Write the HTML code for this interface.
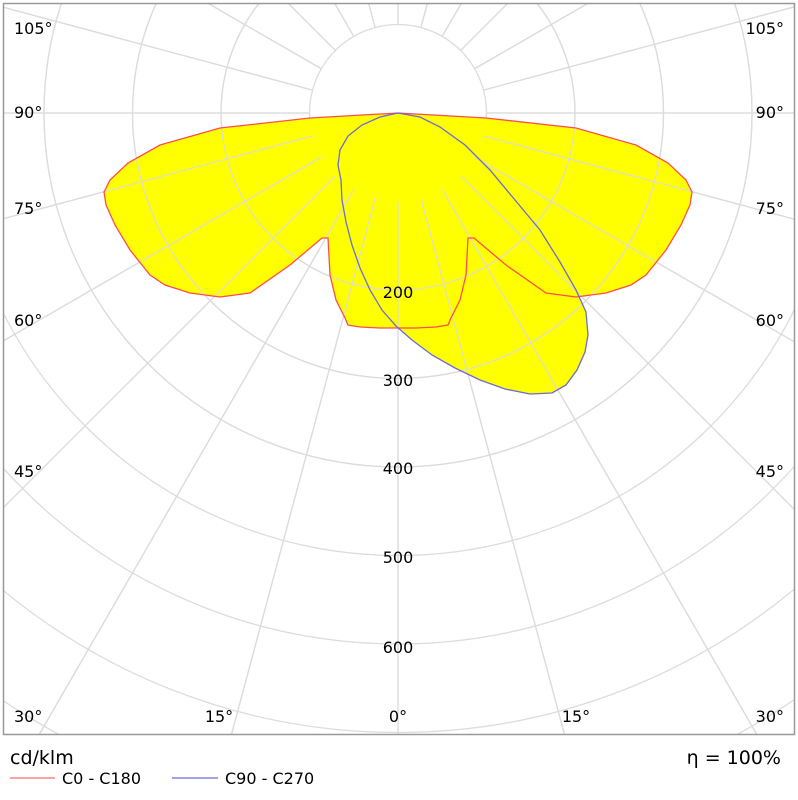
<!DOCTYPE html><html><head><style>html,body{margin:0;background:#fff;width:798px;height:800px;overflow:hidden}svg{display:block}text{font-family:"DejaVu Sans","Liberation Sans",sans-serif;font-size:16px;fill:#000}</style></head><body>
<svg width="798" height="800" viewBox="0 0 798 800">
<defs><clipPath id="c"><rect x="4" y="4" width="790" height="730"/></clipPath></defs>
<g clip-path="url(#c)" fill="none" stroke="#dcdcdc" stroke-width="1.3">
<circle cx="398" cy="113" r="88.5"/><circle cx="398" cy="113" r="177"/><circle cx="398" cy="113" r="265.5"/><circle cx="398" cy="113" r="354"/><circle cx="398" cy="113" r="442.5"/><circle cx="398" cy="113" r="531"/><circle cx="398" cy="113" r="619.5"/><circle cx="398" cy="113" r="708"/><circle cx="398" cy="113" r="796"/>
<g id="rays"></g>
</g>
<g clip-path="url(#c)">
<path d="M398,113 L310,118 220,128 160,145 128,163 110,180 104,192 106,205 115,225 130,250 150,275 165,285 190,293 220,297 250,293 290,265 322,238 328,238 330,275 336,300 345,318 348,325 360,327 380,328 398,328 416,328 436,327 448,325 451,318 460,300 466,275 468,238 474,238 506,265 546,293 576,297 606,293 631,285 646,275 666,250 681,225 690,205 692,192 686,180 668,163 636,145 576,128 486,118 Z" fill="#ffff00" stroke="none"/>
<path d="M398,113 L380,117 362,125 348,136 340,150 338,165 341,180 342,200 346,222 352,245 360,268 370,290 382,310 396,326 412,340 432,355 455,368 480,380 505,389 530,394 552,393 566,385 577,370 585,352 588,335 586,312 576,290 560,262 540,230 515,200 490,170 465,145 440,127 420,117 Z" fill="#ffff00" stroke="none"/>
</g>
<g id="rays2" clip-path="url(#c)" stroke="#dcdcdc" stroke-width="1.3" fill="none" opacity="0.9"></g>
<g clip-path="url(#c)" fill="none">
<path d="M398,113 L310,118 220,128 160,145 128,163 110,180 104,192 106,205 115,225 130,250 150,275 165,285 190,293 220,297 250,293 290,265 322,238 328,238 330,275 336,300 345,318 348,325 360,327 380,328 398,328 416,328 436,327 448,325 451,318 460,300 466,275 468,238 474,238 506,265 546,293 576,297 606,293 631,285 646,275 666,250 681,225 690,205 692,192 686,180 668,163 636,145 576,128 486,118 Z" stroke="#ff4d4d" stroke-width="1.3"/>
<path d="M398,113 L380,117 362,125 348,136 340,150 338,165 341,180 342,200 346,222 352,245 360,268 370,290 382,310 396,326 412,340 432,355 455,368 480,380 505,389 530,394 552,393 566,385 577,370 585,352 588,335 586,312 576,290 560,262 540,230 515,200 490,170 465,145 440,127 420,117 Z" stroke="#6b6bd6" stroke-width="1.3"/>
</g>
<rect x="3.5" y="3.5" width="791" height="731" fill="none" stroke="#999" stroke-width="1.5"/>
<g>
<text x="14" y="34">105°</text><text x="14" y="118">90°</text><text x="14" y="214">75°</text><text x="14" y="326">60°</text><text x="14" y="477">45°</text><text x="14" y="722">30°</text>
<text x="784" y="34" text-anchor="end">105°</text><text x="784" y="118" text-anchor="end">90°</text><text x="784" y="214" text-anchor="end">75°</text><text x="784" y="326" text-anchor="end">60°</text><text x="784" y="477" text-anchor="end">45°</text><text x="784" y="722" text-anchor="end">30°</text>
<text x="219" y="722" text-anchor="middle">15°</text><text x="398" y="722" text-anchor="middle">0°</text><text x="576" y="722" text-anchor="middle">15°</text>
<text x="398" y="298" text-anchor="middle">200</text><text x="398" y="386" text-anchor="middle">300</text><text x="398" y="474" text-anchor="middle">400</text><text x="398" y="563" text-anchor="middle">500</text><text x="398" y="653" text-anchor="middle">600</text>
<text x="10" y="764" style="font-size:19px">cd/klm</text>
<text x="781" y="764" text-anchor="end" style="font-size:19px">η = 100%</text>
<line x1="10" y1="778" x2="55" y2="778" stroke="#ff6b6b" stroke-width="1.3"/><text x="62" y="784">C0 - C180</text>
<line x1="172" y1="778" x2="218" y2="778" stroke="#6b6bd6" stroke-width="1.3"/><text x="225" y="784">C90 - C270</text>
</g>
</svg>
<script>
var s='';for(var a=0;a<360;a+=15){var r=a*Math.PI/180,c=Math.sin(r),d=Math.cos(r);s+='<line x1="'+(398+88.5*c)+'" y1="'+(113+88.5*d)+'" x2="'+(398+1000*c)+'" y2="'+(113+1000*d)+'"/>';}
document.getElementById('rays').innerHTML=s;
var t=s;for(var k=2;k<=4;k++)t+='<circle cx="398" cy="113" r="'+(88.5*k)+'"/>';
document.getElementById('rays2').innerHTML=t;
</script>
</body></html>
